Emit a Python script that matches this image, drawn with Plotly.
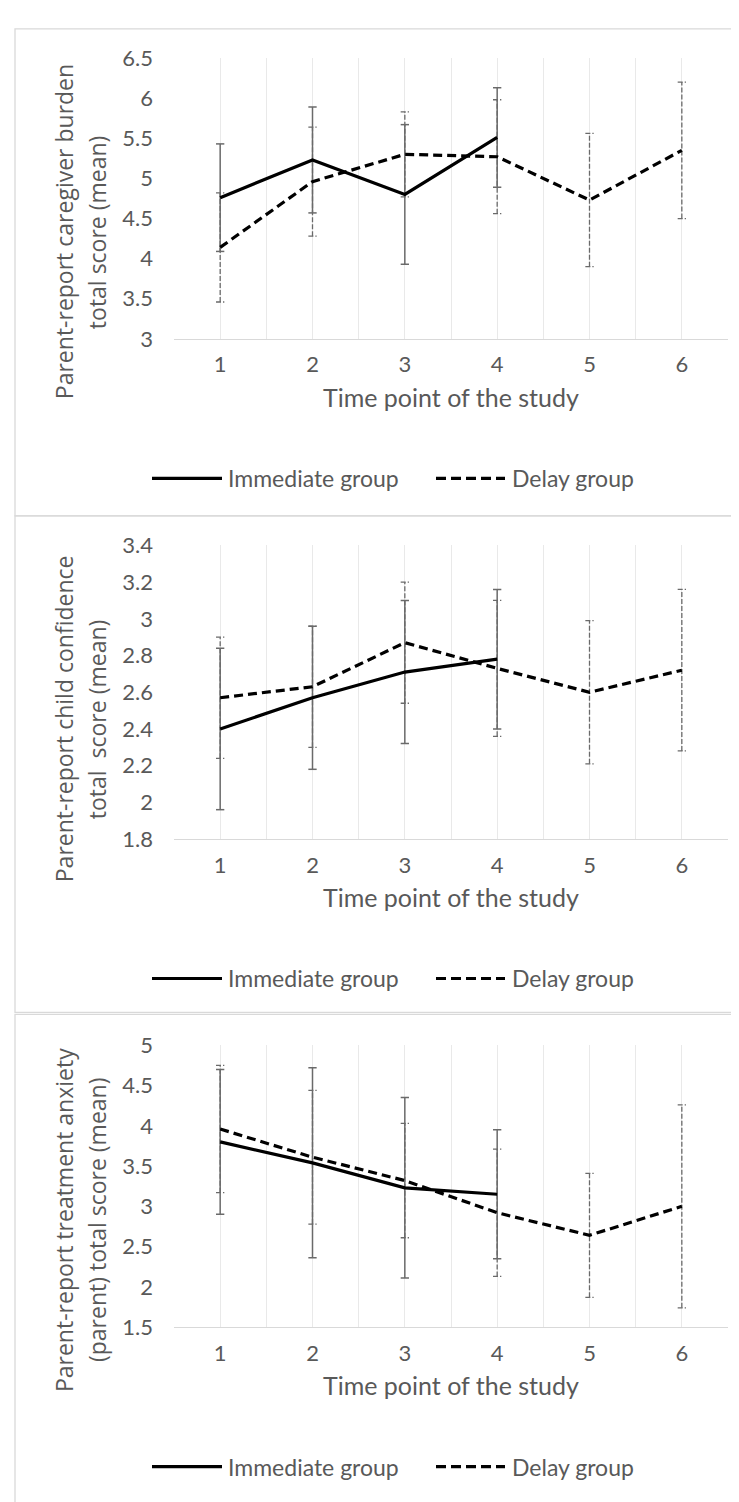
import plotly.graph_objects as go

# ---------------- data ----------------
time_points = [1, 2, 3, 4, 5, 6]
x_tick_vals = [0.5, 1, 1.5, 2, 2.5, 3, 3.5, 4, 4.5, 5, 5.5, 6, 6.5]
x_tick_text = ["", "1", "", "2", "", "3", "", "4", "", "5", "", "6", ""]

# Panel 1: caregiver burden
burden_immediate = [4.76, 5.23, 4.80, 5.51]
burden_immediate_err = [0.67, 0.66, 0.87, 0.62]
burden_delay = [4.14, 4.96, 5.30, 5.27, 4.73, 5.35]
burden_delay_err = [0.68, 0.68, 0.53, 0.71, 0.83, 0.85]
burden_yticks = [3, 3.5, 4, 4.5, 5, 5.5, 6, 6.5]

# Panel 2: child confidence
conf_immediate = [2.40, 2.57, 2.71, 2.78]
conf_immediate_err = [0.44, 0.39, 0.39, 0.38]
conf_delay = [2.57, 2.63, 2.87, 2.73, 2.60, 2.72]
conf_delay_err = [0.33, 0.33, 0.33, 0.37, 0.39, 0.44]
conf_yticks = [1.8, 2, 2.2, 2.4, 2.6, 2.8, 3, 3.2, 3.4]

# Panel 3: treatment anxiety
anx_immediate = [3.80, 3.54, 3.23, 3.15]
anx_immediate_err = [0.90, 1.18, 1.12, 0.80]
anx_delay = [3.96, 3.61, 3.32, 2.92, 2.64, 3.00]
anx_delay_err = [0.79, 0.83, 0.71, 0.79, 0.77, 1.26]
anx_yticks = [1.5, 2, 2.5, 3, 3.5, 4, 4.5, 5]

y_titles = [
    ("Parent-report caregiver burden", "total score (mean)"),
    ("Parent-report child confidence", "total\u00a0 score (mean)"),
    ("Parent-report treatment anxiety", "(parent) total score (mean)"),
]
x_title = "Time point of the study"
legend_names = ["Immediate group", "Delay group"]

# ---------------- layout helpers ----------------
W, H = 739, 1502
def xp(px):
    return px / W
def yp(py):
    return 1 - py / H

GRAY_TXT = "#595959"
GRID = "#e9e9e9"
AXIS = "#d9d9d9"
ERR = "#6a6a6a"
TICK_FONT = dict(family="Lato", size=22, color=GRAY_TXT)
YT_FONT = dict(family="Open Sans", size=23, color=GRAY_TXT)
CAP = 0.045

panels = [
    dict(imm=burden_immediate, imm_e=burden_immediate_err, dly=burden_delay, dly_e=burden_delay_err,
         yt=burden_yticks, top=36.7, bot=322.7, title_c=214, border=(7, 503)),
    dict(imm=conf_immediate, imm_e=conf_immediate_err, dly=conf_delay, dly_e=conf_delay_err,
         yt=conf_yticks, top=533, bot=832, title_c=710, border=(503, 1008.5)),
    dict(imm=anx_immediate, imm_e=anx_immediate_err, dly=anx_delay, dly_e=anx_delay_err,
         yt=anx_yticks, top=1042, bot=1329, title_c=1220, border=(1010.5, 1510)),
]

def err_segments(xs, ys, es):
    ex, ey = [], []
    for x, y, e in zip(xs, ys, es):
        lo, hi = y - e, y + e
        ex += [x, x, None, x - CAP, x + CAP, None, x - CAP, x + CAP, None]
        ey += [lo, hi, None, hi, hi, None, lo, lo, None]
    return ex, ey

fig = go.Figure()
shapes, annotations = [], []
layout = {}
for i, p in enumerate(panels):
    n = "" if i == 0 else str(i + 1)
    xa, ya = "x" + n, "y" + n
    ximm = time_points[:len(p["imm"])]
    # delay error bars (dashed)
    ex, ey = err_segments(time_points, p["dly"], p["dly_e"])
    fig.add_trace(go.Scatter(x=ex, y=ey, mode="lines", xaxis=xa, yaxis=ya, showlegend=False,
                             line=dict(color=ERR, width=1.3, dash="5px,2px"), hoverinfo="skip"))
    # immediate error bars (solid)
    ex, ey = err_segments(ximm, p["imm"], p["imm_e"])
    fig.add_trace(go.Scatter(x=ex, y=ey, mode="lines", xaxis=xa, yaxis=ya, showlegend=False,
                             line=dict(color=ERR, width=1.5), hoverinfo="skip"))
    # lines
    fig.add_trace(go.Scatter(x=ximm, y=p["imm"], mode="lines", xaxis=xa, yaxis=ya, name=legend_names[0],
                             showlegend=False, line=dict(color="black", width=3.2)))
    fig.add_trace(go.Scatter(x=time_points, y=p["dly"], mode="lines", xaxis=xa, yaxis=ya, name=legend_names[1],
                             showlegend=False, line=dict(color="black", width=3.2, dash="9px,5px")))

    layout["xaxis" + n] = dict(
        domain=[xp(166), xp(720)], range=[0.5, 6.5], anchor=ya,
        tickmode="array", tickvals=x_tick_vals, ticktext=x_tick_text,
        showgrid=True, gridcolor=GRID, gridwidth=1, zeroline=False,
        showline=True, linecolor=AXIS, linewidth=1.3, ticks="",
        tickfont=TICK_FONT, ticklabelstandoff=6, fixedrange=True,
    )
    layout["yaxis" + n] = dict(
        domain=[yp(p["bot"]), yp(p["top"])], range=[p["yt"][0], p["yt"][-1]], anchor=xa,
        tickmode="array", tickvals=p["yt"], showgrid=False, zeroline=False, showline=False,
        ticks="", tickfont=TICK_FONT, ticklabelstandoff=20, fixedrange=True,
    )

    # panel border
    b0, b1 = p["border"]
    shapes.append(dict(type="rect", xref="paper", yref="paper", x0=xp(7), x1=xp(745),
                       y0=yp(b1), y1=yp(b0), line=dict(color=AXIS, width=1.3)))
    # y titles (two lines)
    annotations.append(dict(xref="paper", yref="paper", x=xp(56), y=yp(p["title_c"]),
                            text=y_titles[i][0], textangle=-90, showarrow=False,
                            xanchor="center", yanchor="middle", font=YT_FONT))
    annotations.append(dict(xref="paper", yref="paper", x=xp(89), y=yp(p["title_c"]),
                            text=y_titles[i][1], textangle=-90, showarrow=False,
                            xanchor="center", yanchor="middle", font=YT_FONT))
    # x title
    annotations.append(dict(xref="paper", yref="paper", x=xp(443), y=yp(p["bot"] + 59),
                            text=x_title, showarrow=False, xanchor="center", yanchor="middle",
                            font=dict(family="Lato", size=25, color=GRAY_TXT)))
    # legend
    ly = p["bot"] + 142
    shapes.append(dict(type="line", xref="paper", yref="paper", x0=xp(144), x1=xp(214),
                       y0=yp(ly), y1=yp(ly), line=dict(color="black", width=3.2)))
    shapes.append(dict(type="line", xref="paper", yref="paper", x0=xp(428), x1=xp(497),
                       y0=yp(ly), y1=yp(ly), line=dict(color="black", width=3.2, dash="10px,5px")))
    annotations.append(dict(xref="paper", yref="paper", x=xp(218), y=yp(ly), text=legend_names[0],
                            showarrow=False, xanchor="left", yanchor="middle",
                            font=dict(family="Lato", size=23, color=GRAY_TXT)))
    annotations.append(dict(xref="paper", yref="paper", x=xp(502), y=yp(ly), text=legend_names[1],
                            showarrow=False, xanchor="left", yanchor="middle",
                            font=dict(family="Lato", size=23, color=GRAY_TXT)))

fig.update_layout(
    width=W, height=H, margin=dict(l=0, r=0, t=0, b=0),
    paper_bgcolor="white", plot_bgcolor="white", showlegend=False,
    shapes=shapes, annotations=annotations, **layout,
)
fig.write_html("out.html", config={"displayModeBar": False})
